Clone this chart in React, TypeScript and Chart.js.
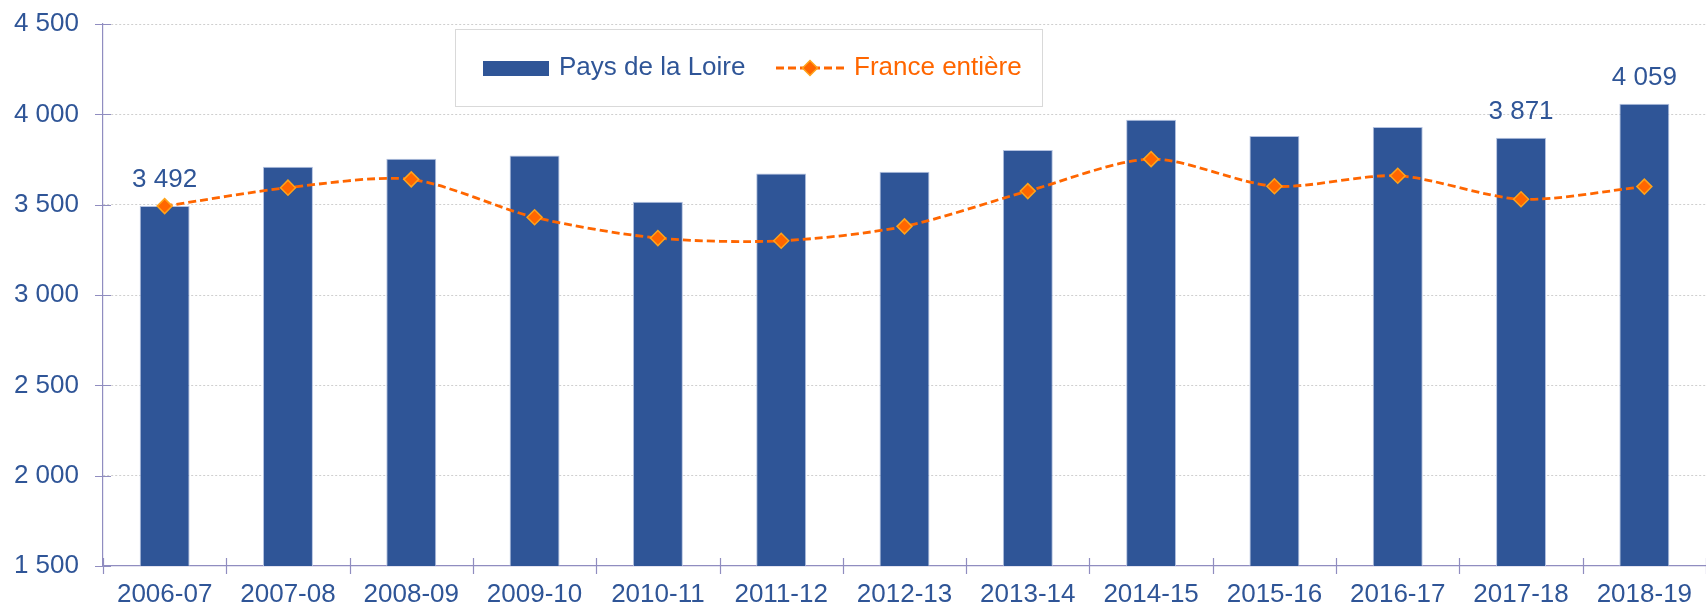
import React, { useEffect, useRef } from 'react';
import { Chart, registerables } from 'chart.js';

Chart.register(...registerables);

const categories = ['2006-07', '2007-08', '2008-09', '2009-10', '2010-11', '2011-12', '2012-13', '2013-14', '2014-15', '2015-16', '2016-17', '2017-18', '2018-19'];
const paysDeLaLoire = [3492, 3710, 3754, 3772, 3516, 3673, 3682, 3802, 3970, 3880, 3930, 3871, 4059];
const franceEntiere = [3492, 3594, 3640, 3430, 3315, 3300, 3380, 3575, 3752, 3602, 3660, 3530, 3600];
const labeledIndices = [0, 11, 12];
const seriesNames = ['Pays de la Loire', 'France entière'];
const yMin = 1500;
const yMax = 4500;
const yStep = 500;

const BLUE = '#2F5597';
const ORANGE = '#FF6600';
const AXIS = '#908DC0';
const FONT = '"Liberation Sans", Arial, sans-serif';
const FS = 26;
const DASH = [8, 4];

const fmt = (v: number) => String(v).replace(/\B(?=(\d{3})+(?!\d))/g, ' ');

const customPlugin = {
  id: 'customDecor',
  afterDatasetsDraw(chart: any) {
    const ctx = chart.ctx;
    const meta = chart.getDatasetMeta(1);
    ctx.save();
    ctx.font = `${FS}px ${FONT}`;
    ctx.fillStyle = BLUE;
    ctx.textAlign = 'center';
    ctx.textBaseline = 'alphabetic';
    labeledIndices.forEach((i) => {
      const el = meta.data[i];
      if (!el) return;
      ctx.fillText(fmt(paysDeLaLoire[i]), el.x, el.y - 19);
    });
    ctx.restore();
  },
  afterDraw(chart: any) {
    const ctx = chart.ctx;
    const area = chart.chartArea;
    const ys = chart.scales.y;
    ctx.save();
    // crossing tick marks
    ctx.strokeStyle = AXIS;
    ctx.lineWidth = 1.2;
    ctx.beginPath();
    for (let v = yMin; v <= yMax; v += yStep) {
      const y = Math.round(ys.getPixelForValue(v)) + 0.5;
      ctx.moveTo(area.left - 8, y);
      ctx.lineTo(area.left + 8, y);
    }
    const n = categories.length;
    const w = (area.right - area.left) / n;
    for (let i = 0; i <= n; i++) {
      const x = Math.round(area.left + i * w) + 0.5;
      ctx.moveTo(x, area.bottom - 8);
      ctx.lineTo(x, area.bottom + 8);
    }
    ctx.stroke();

    // legend
    const bx = 455, by = 29, bw = 587, bh = 77;
    ctx.fillStyle = '#FFFFFF';
    ctx.fillRect(bx, by, bw, bh);
    ctx.strokeStyle = '#D9D9D9';
    ctx.lineWidth = 1;
    ctx.strokeRect(bx + 0.5, by + 0.5, bw, bh);
    const cy = 68;
    ctx.fillStyle = BLUE;
    ctx.fillRect(483, 61, 66, 15);
    ctx.font = `${FS}px ${FONT}`;
    ctx.textBaseline = 'middle';
    ctx.textAlign = 'left';
    ctx.fillText(seriesNames[0], 559, cy);
    ctx.strokeStyle = ORANGE;
    ctx.lineWidth = 2.8;
    ctx.setLineDash(DASH);
    ctx.beginPath();
    ctx.moveTo(776, cy);
    ctx.lineTo(846, cy);
    ctx.stroke();
    ctx.setLineDash([]);
    const dx = 810, r = 7.5;
    ctx.beginPath();
    ctx.moveTo(dx - r, cy);
    ctx.lineTo(dx, cy - r);
    ctx.lineTo(dx + r, cy);
    ctx.lineTo(dx, cy + r);
    ctx.closePath();
    ctx.fillStyle = ORANGE;
    ctx.fill();
    ctx.strokeStyle = '#FFA31A';
    ctx.lineWidth = 1.5;
    ctx.stroke();
    ctx.fillStyle = ORANGE;
    ctx.fillText(seriesNames[1], 854, cy);
    ctx.restore();
  },
};

export default function App() {
  const ref = useRef<HTMLCanvasElement | null>(null);

  useEffect(() => {
    document.body.style.margin = '0';
    document.body.style.overflow = 'hidden';
    const canvas = ref.current;
    if (!canvas) return;
    const chart = new Chart(canvas, {
      type: 'bar',
      data: {
        labels: categories,
        datasets: [
          {
            type: 'line',
            label: seriesNames[1],
            data: franceEntiere,
            borderColor: ORANGE,
            borderWidth: 2.8,
            borderDash: DASH,
            tension: 0.28,
            pointStyle: 'rectRot',
            pointRadius: 7.5,
            pointBackgroundColor: ORANGE,
            pointBorderColor: '#FFA31A',
            pointBorderWidth: 1.5,
            fill: false,
            order: 0,
          } as any,
          {
            type: 'bar',
            label: seriesNames[0],
            data: paysDeLaLoire,
            backgroundColor: BLUE,
            borderColor: '#B4C2E0',
            borderWidth: 1,
            categoryPercentage: 1,
            barPercentage: 0.405,
            order: 1,
          } as any,
        ],
      },
      options: {
        responsive: false,
        animation: false,
        layout: { autoPadding: false, padding: { top: 24, right: 0, bottom: 0, left: 0 } },
        plugins: {
          legend: { display: false },
          tooltip: { enabled: false },
        },
        scales: {
          x: {
            offset: true,
            grid: { display: false, drawTicks: false },
            border: { display: true, color: AXIS, width: 1.2 },
            ticks: {
              color: BLUE,
              font: { family: FONT, size: FS },
              padding: 13,
              maxRotation: 0,
              autoSkip: false,
            },
            afterFit: (s: any) => { s.height = 43; s.paddingLeft = 0; s.paddingRight = 0; },
          },
          y: {
            min: yMin,
            max: yMax,
            ticks: {
              stepSize: yStep,
              color: BLUE,
              font: { family: FONT, size: FS },
              padding: 24,
              callback: (v: any) => fmt(Number(v)),
            },
            grid: {
              color: (c: any) => (c.tick && c.tick.value === yMin ? 'rgba(0,0,0,0)' : '#CFCFCF'),
              drawTicks: false,
              lineWidth: 1,
            },
            border: { display: true, color: AXIS, width: 1.2, dash: [2, 2] } as any,
            afterFit: (s: any) => { s.width = 103; s.paddingTop = 0; s.paddingBottom = 0; },
          },
        },
      } as any,
      plugins: [customPlugin],
    });
    return () => chart.destroy();
  }, []);

  return (
    <div style={{ width: 1706, height: 609, overflow: 'hidden' }}>
      <canvas ref={ref} width={1706} height={609} style={{ display: 'block' }} />
    </div>
  );
}
